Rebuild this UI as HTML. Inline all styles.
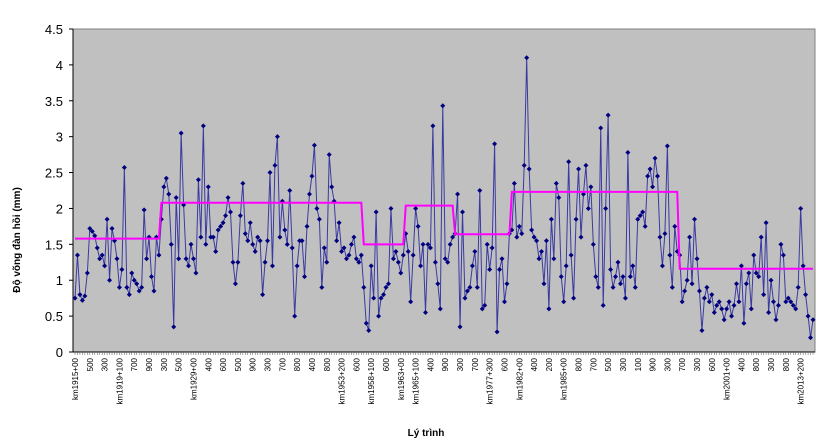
<!DOCTYPE html>
<html><head><meta charset="utf-8"><style>
html,body{margin:0;padding:0;background:#fff;}
svg{display:block;font-family:"Liberation Sans",Arial,sans-serif;}
</style></head><body>
<svg id="chart" width="829" height="446" viewBox="0 0 829 446" xmlns="http://www.w3.org/2000/svg">
<rect x="73" y="29" width="742" height="323" fill="#c0c0c0" stroke="#808080" stroke-width="1"/>
<g id="yaxis"></g>
<g id="xaxis"></g>
<g id="series"></g>
<g id="steps"></g>
<text transform="translate(20,240) rotate(-90)" text-anchor="middle" font-size="10" font-weight="bold" fill="#000">Độ võng đàn hồi (mm)</text>
<text x="426" y="436" text-anchor="middle" font-size="10" font-weight="bold" fill="#000">Lý trình</text>
</svg>
<script>
const yTicks=[0,0.5,1,1.5,2,2.5,3,3.5,4,4.5];
const xTickLabels=["km1915+00","500","300","km1919+100","700","900","300","500","km1929+00","400","600","500","900","300","700","800","400","800","km1953+200","600","km1958+100","600","km1963+00","km1965+100","400","900","300","700","km1977+300","600","km1982+00","400","200","km1985+00","800","700","500","300","100","900","300","700","300","600","km2001+00","400","800","300","800","km2013+200"];
const seg1=[0.75,1.35,0.8,0.72,0.78,1.1,1.72,1.68,1.62,1.45,1.3,1.35,1.2,1.85,1.0,1.72,1.55,1.3,0.9,1.15,2.57,0.9,0.8,1.1,1.0,0.95,0.85,0.9,1.98,1.3,1.6,1.05,0.85,1.6,1.35];
const seg2=[1.85,2.3,2.42,2.2,1.5,0.35,2.15,1.3,3.05,2.05,1.3,1.2,1.5,1.3,1.1,2.4,1.6,3.15,1.5,2.3,1.6,1.6,1.4,1.7,1.75,1.8,1.9,2.15,1.95,1.25,0.95,1.25,1.9,2.35,1.65,1.55,1.8,1.5,1.4,1.6,1.55,0.8,1.25,1.55,2.5,1.2,2.6,3.0,1.6,2.1,1.7,1.5,2.25,1.45,0.5,1.2,1.55,1.55,1.05,1.75,2.2,2.45,2.88,2.0,1.85,0.9,1.45,1.25,2.75,2.3,2.1,1.55,1.8,1.4,1.45,1.3,1.35,1.5,1.6,1.3,1.25,1.35];
const seg3=[0.9,0.4,0.3,1.2,0.75,1.95,0.5,0.75,0.8,0.9,0.95,2.0,1.3,1.4,1.25,1.1,1.35];
const seg4=[1.65,1.4,0.7,1.35,2.0,1.75,1.2,1.5,0.55,1.5,1.45,3.15,1.25,0.95,0.6,3.43,1.3,1.25,1.5,1.6];
const seg5=[1.65,2.2,0.35,1.95,0.75,0.85,0.9,1.2,1.4,0.9,2.25,0.6,0.65,1.5,1.15,1.45,2.9,0.28,1.15,1.3,0.7,0.95,1.65];
const seg6=[1.7,2.35,1.6,1.75,1.65,2.6,4.1,2.55,1.7,1.6,1.55,1.3,1.4,0.95,1.55,0.6,1.85,1.3,2.35,2.15,1.05,0.7,1.2,2.65,1.35,0.75,1.85,2.55,1.6,2.2,2.6,2.0,2.3,1.5,1.05,0.9,3.12,0.65,2.0,3.3,1.15,0.9,1.05,1.25,0.95,1.05,0.75,2.78,1.05,1.2,0.9,1.85,1.9,1.95,1.75,2.45,2.55,2.3,2.7,2.45,1.6,1.2,1.65,2.87,1.35,0.9,1.75,1.4];
const seg7=[1.35,0.7,0.85,1.0,1.6,0.95,1.85,1.3,0.85,0.3,0.75,0.9,0.7,0.8,0.55,0.65,0.7,0.6,0.45,0.6,0.7,0.5,0.65,0.95,0.7,1.2,0.4,0.95,1.1,0.6,1.35,1.1,1.05,1.6,0.8,1.8,0.55,1.0,0.7,0.45,0.65,1.5,1.35,0.7,0.75,0.7,0.65,0.6,0.9,2.0,1.2,0.8,0.5,0.2,0.45];
const segmentMeans=[1.58,2.08,1.5,2.04,1.64,2.23,1.16];
const segments=[seg1,seg2,seg3,seg4,seg5,seg6,seg7];
const values=[].concat(...segments);

const NS="http://www.w3.org/2000/svg";
const L=73,R=815,T=29,B=352,YMAX=4.5;
const n=values.length;
function xs(i){return L+2+i*(R-L-4)/(n-1);}
function ys(v){return B-(v/YMAX)*(B-T);}
function mk(tag,attrs,parent){const e=document.createElementNS(NS,tag);for(const k in attrs)e.setAttribute(k,attrs[k]);parent.appendChild(e);return e;}

const ya=document.getElementById('yaxis');
mk('line',{x1:L,y1:T,x2:L,y2:B,stroke:'#000','stroke-width':1},ya);
yTicks.forEach(t=>{
  const y=ys(t);
  mk('line',{x1:L-4,y1:y,x2:L,y2:y,stroke:'#000'},ya);
  const tx=mk('text',{x:L-10,y:y+5,'text-anchor':'end','font-size':13,fill:'#000'},ya);
  tx.textContent=String(t);
  
  
});
const xa=document.getElementById('xaxis');
mk('line',{x1:L,y1:B,x2:R,y2:B,stroke:'#000','stroke-width':1},xa);
for(let i=0;i<n;i++){mk('line',{x1:xs(i),y1:B,x2:xs(i),y2:B+3,stroke:'#555','stroke-width':0.5},xa);}
const step=n/xTickLabels.length;
xTickLabels.forEach((lab,k)=>{
  const x=xs(k*step)+3;
  const tx=mk('text',{transform:`translate(${x},${B+6}) rotate(-90)`,'text-anchor':'end','font-size':8,fill:'#000'},xa);
  tx.textContent=lab;
  
  
});

const sg=document.getElementById('series');
const pl=mk('polyline',{points:values.map((v,i)=>xs(i)+','+ys(v)).join(' '),fill:'none',stroke:'#3a3aa0','stroke-width':1},sg);


values.forEach((v,i)=>{
  const x=xs(i),y=ys(v);
  const p=mk('polygon',{points:`${x},${y-2.5} ${x+2.5},${y} ${x},${y+2.5} ${x-2.5},${y}`,fill:'#000080'},sg);
  
  
});

const st=document.getElementById('steps');
let pts=[],idx=0;
segments.forEach((s,k)=>{
  const a=idx,b=idx+s.length-1;
  pts.push(xs(a)+','+ys(segmentMeans[k]));
  pts.push(xs(b)+','+ys(segmentMeans[k]));
  idx+=s.length;
});
const sl=mk('polyline',{points:pts.join(' '),fill:'none',stroke:'#ff00ff','stroke-width':2},st);


</script>
</body></html>
